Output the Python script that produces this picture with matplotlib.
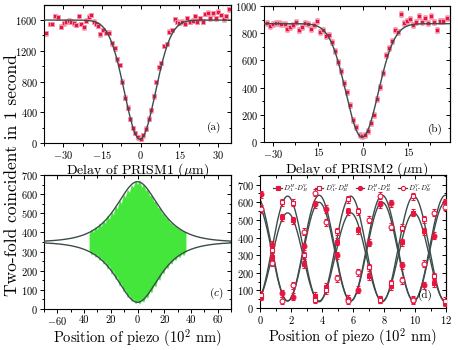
import numpy as np
import matplotlib
matplotlib.use('Agg')
import matplotlib.pyplot as plt
from matplotlib.lines import Line2D
from matplotlib.ticker import MultipleLocator, NullFormatter

plt.rcParams['font.family'] = 'serif'
plt.rcParams['font.serif'] = ['cmr10']
plt.rcParams['mathtext.fontset'] = 'cm'
plt.rcParams['axes.formatter.use_mathtext'] = True
plt.rcParams['axes.linewidth'] = 0.8

# ---- panel (a): HOM dip vs delay of PRISM1 ----
delay_a = [-36.6, -35.3, -34.3, -33.1, -32.1, -30.8, -29.9, -28.8, -27.9, -26.9,
           -26.0, -25.0, -24.1, -23.0, -22.1, -21.1, -20.1, -19.1, -18.2, -17.2,
           -16.4, -15.7, -14.6, -13.3, -12.3, -11.1, -10.1, -9.2, -8.2, -7.1,
           -6.1, -5.0, -4.1, -3.1, -2.1, -1.0, 0.0, 1.0, 2.1, 3.1,
           4.1, 5.0, 6.1, 7.0, 8.0, 9.1, 10.1, 11.1, 12.0, 13.1,
           14.1, 15.0, 16.0, 17.1, 18.0, 19.0, 20.1, 21.0, 22.0, 23.0,
           24.1, 25.1, 26.1, 27.0, 28.1, 29.1, 30.1, 31.0, 32.1, 33.1, 34.2]
counts_a = [1426, 1548, 1548, 1652, 1635, 1513, 1557, 1578, 1591, 1578,
            1557, 1535, 1652, 1548, 1504, 1591, 1643, 1665, 1578, 1548,
            1526, 1413, 1470, 1435, 1435, 1296, 1230, 1087, 1013, 800,
            591, 461, 313, 196, 130, 74, 57, 100, 187, 317,
            426, 609, 796, 983, 1043, 1261, 1287, 1448, 1470, 1609,
            1578, 1565, 1578, 1548, 1622, 1578, 1591, 1652, 1578, 1622,
            1578, 1678, 1696, 1622, 1687, 1622, 1709, 1665, 1609, 1652, 1739]
err_a = 30
# gaussian fit: baseline, depth, centre, width
fit_a = (1600, 1550, -0.3, 6.0)

# ---- panel (b): HOM dip vs delay of PRISM2 ----
delay_b = [-32.0, -31.1, -30.0, -29.1, -28.1, -27.2, -26.1, -25.2, -24.3, -23.2,
           -22.2, -21.3, -20.3, -19.3, -18.3, -17.3, -16.3, -15.2, -14.2, -13.2,
           -12.2, -11.2, -10.2, -9.2, -8.2, -7.2, -6.2, -5.2, -4.2, -3.2,
           -2.2, -1.1, -0.2, 0.8, 1.8, 2.8, 3.8, 4.8, 5.8, 6.8,
           7.8, 8.8, 9.8, 10.8, 11.8, 12.8, 13.8, 14.8, 15.8, 16.8,
           17.8, 18.8, 19.8, 20.8, 21.8, 22.8, 23.8, 24.8, 25.8, 26.8, 27.9]
counts_b = [876, 851, 866, 876, 878, 871, 866, 834, 846, 859,
            883, 827, 846, 876, 866, 834, 859, 890, 810, 827,
            780, 790, 737, 668, 590, 524, 437, 371, 273, 159,
            110, 49, 41, 49, 83, 139, 200, 315, 407, 510,
            639, 693, 741, 822, 810, 939, 876, 890, 907, 859,
            883, 927, 883, 915, 876, 924, 883, 827, 890, 890, 915]
err_b = 22
fit_b = (870, 835, -0.3, 5.4)

# ---- panel (c): fringes vs piezo position ----
piezo_c_range = (-36, 36)
fringe_upper = [392, 418, 398, 430, 412, 448, 428, 462, 444, 488, 466, 506, 490,
                538, 518, 566, 548, 596, 582, 622, 606, 646, 634, 670, 648,
                672, 632, 650, 618, 622, 590, 592, 562, 560, 530, 525, 500,
                494, 476, 470, 452, 446, 434, 430, 420, 416, 408, 406, 400]
fringe_lower = [308, 284, 300, 272, 288, 255, 272, 236, 252, 212, 232, 184, 206,
                156, 174, 122, 140, 92, 106, 62, 78, 42, 56, 30, 44,
                28, 52, 38, 70, 60, 98, 88, 130, 118, 166, 152, 198,
                186, 226, 212, 250, 236, 268, 256, 284, 270, 296, 282, 304]
# envelope fit: baseline, amplitude, sech width
env_c = (350, 315, 14.3)

# ---- panel (d): four coincidence channels vs piezo ----
piezo_d = [0.05, 0.75, 1.45, 2.15, 2.85, 3.55, 4.25, 4.95, 5.65,
           6.35, 7.05, 7.75, 8.45, 9.15, 9.85, 10.55, 11.25, 11.95]
hv = [64, 290, 515, 497, 249, 70, 120, 375, 550, 440, 180, 50, 125, 374, 540, 435, 142, 30]
vh = [74, 330, 600, 598, 300, 46, 100, 435, 617, 550, 230, 46, 140, 455, 633, 505, 180, 40]
hh = [645, 360, 83, 64, 350, 589, 562, 300, 52, 105, 370, 589, 595, 243, 47, 130, 410, 600]
vv = [562, 258, 42, 129, 433, 654, 488, 170, 40, 203, 500, 637, 460, 157, 45, 250, 540, 575]
err_d = 20
# sinusoid fits: offset, amplitude (sign gives phase)
fits_d = [(290, 250), (335, 300), (320, -280), (340, -300)]
period_d = 4.07
peak_d = 1.78
labels_d = [r'$D_A^H$-$D_B^V$', r'$D_A^V$-$D_B^H$', r'$D_A^H$-$D_B^H$', r'$D_A^V$-$D_B^V$']

red = '#e8163f'
pink = '#f49ab0'
fitcol = '#3c4c4c'
green = '#44e63c'

fig = plt.figure(figsize=(4.58, 3.5), dpi=100)
ax_a = fig.add_axes([0.0961, 0.5914, 0.4083, 0.3943])
ax_b = fig.add_axes([0.5764, 0.5943, 0.4061, 0.3886])
ax_c = fig.add_axes([0.0961, 0.1171, 0.4083, 0.3829])
ax_d = fig.add_axes([0.5677, 0.1200, 0.4061, 0.3800])


def style(ax, xmaj, xmin, ymaj, ymin):
    ax.xaxis.set_major_locator(MultipleLocator(xmaj))
    ax.xaxis.set_minor_locator(MultipleLocator(xmin))
    ax.yaxis.set_major_locator(MultipleLocator(ymaj))
    ax.yaxis.set_minor_locator(MultipleLocator(ymin))
    ax.tick_params(which='both', direction='out', labelsize=7.5, pad=1.5, width=0.7)
    ax.tick_params(which='major', length=3)
    ax.tick_params(which='minor', length=1.8)
    # mirrored ticks on top and right, pointing inwards
    top = ax.secondary_xaxis('top')
    top.xaxis.set_major_locator(MultipleLocator(xmaj))
    top.xaxis.set_minor_locator(MultipleLocator(xmin))
    top.xaxis.set_major_formatter(NullFormatter())
    top.tick_params(which='both', direction='in', width=0.7)
    top.tick_params(which='major', length=3)
    top.tick_params(which='minor', length=1.8)
    right = ax.secondary_yaxis('right')
    right.yaxis.set_major_locator(MultipleLocator(ymaj))
    right.yaxis.set_minor_locator(MultipleLocator(ymin))
    right.yaxis.set_major_formatter(NullFormatter())
    right.tick_params(which='both', direction='in', width=0.7)
    right.tick_params(which='major', length=3)
    right.tick_params(which='minor', length=1.8)


def dip(x, base, depth, x0, sig):
    return base - depth * np.exp(-(x - x0) ** 2 / (2 * sig ** 2))


# (a)
xs = np.linspace(-37.5, 35, 400)
ax_a.plot(xs, dip(xs, *fit_a), color=fitcol, lw=1.0, zorder=3)
ax_a.errorbar(delay_a, counts_a, yerr=err_a, fmt='s', ms=3.5, mfc=red, mec=pink,
              mew=0.6, ecolor=pink, elinewidth=0.6, capsize=1.2, zorder=2)
ax_a.set_xlim(-37.5, 35)
ax_a.set_ylim(0, 1796)
style(ax_a, 15, 7.5, 400, 200)
ax_a.set_xlabel(r'Delay of PRISM1 ($\mu$m)', fontsize=10, labelpad=0)
ax_a.text(0.95, 0.07, '(a)', transform=ax_a.transAxes, fontsize=8, ha='right', va='bottom')

# (b)
xs = np.linspace(-33, 29, 400)
ax_b.plot(xs, dip(xs, *fit_b), color=fitcol, lw=1.0, zorder=3)
ax_b.errorbar(delay_b, counts_b, yerr=err_b, fmt='s', ms=3.5, mfc=red, mec=pink,
              mew=0.6, ecolor=pink, elinewidth=0.6, capsize=1.2, zorder=2)
ax_b.set_xlim(-33, 29)
ax_b.set_ylim(0, 1000)
style(ax_b, 15, 7.5, 200, 100)
ax_b.set_xticks([-30, -15, 0, 15])
ax_b.set_xticklabels([r'$-30$', '15', '0', '15'])
ax_b.set_xlabel(r'Delay of PRISM2 ($\mu$m)', fontsize=10, labelpad=0)
ax_b.text(0.96, 0.05, '(b)', transform=ax_b.transAxes, fontsize=8, ha='right', va='bottom')

# (c)
xg = np.linspace(piezo_c_range[0], piezo_c_range[1], len(fringe_upper))
ax_c.fill_between(xg, fringe_lower, fringe_upper, color=green, lw=0.4, edgecolor=green, zorder=2)
xs = np.linspace(-70, 70, 500)
base_c, amp_c, w_c = env_c
env = amp_c / np.cosh(xs / w_c)
ax_c.plot(xs, base_c + env, color=fitcol, lw=1.0, zorder=3)
ax_c.plot(xs, base_c - env, color=fitcol, lw=1.0, zorder=3)
ax_c.set_xlim(-70, 70)
ax_c.set_ylim(0, 700)
style(ax_c, 20, 10, 100, 50)
ax_c.set_xticks([-60, -40, -20, 0, 20, 40, 60])
ax_c.set_xticklabels([r'$-60$', '40', '20', '0', '20', '40', '60'])
ax_c.set_xlabel(r'Position of piezo (10$^2$ nm)', fontsize=10.5, labelpad=0)
ax_c.text(0.96, 0.06, r'$(c)$', transform=ax_c.transAxes, fontsize=8, ha='right', va='bottom')

# (d)
xs = np.linspace(0, 12, 500)
series_d = [hv, vh, hh, vv]
markers_d = [('s', red), ('s', 'white'), ('o', red), ('o', 'white')]
handles = []
for vals, (off, amp), (mk, fc), lab in zip(series_d, fits_d, markers_d, labels_d):
    ax_d.plot(xs, off + amp * np.cos(2 * np.pi * (xs - peak_d) / period_d),
              color=fitcol, lw=1.0, zorder=2)
    ax_d.errorbar(piezo_d, vals, yerr=err_d, fmt=mk, ms=3.5, mfc=fc, mec=red,
                  mew=0.8, ecolor=red, elinewidth=0.7, capsize=1.3, zorder=3)
    handles.append(Line2D([], [], color=fitcol, lw=0.9, marker=mk, ms=3.0,
                          mfc=fc, mec=red, mew=0.8, label=lab))
ax_d.set_xlim(0, 12)
ax_d.set_ylim(0, 755)
style(ax_d, 2, 1, 100, 50)
ax_d.set_xlabel(r'Position of piezo (10$^2$ nm)', fontsize=10.5, labelpad=0)
ax_d.text(0.93, 0.05, '(d)', transform=ax_d.transAxes, fontsize=8, ha='right', va='bottom')
ax_d.legend(handles=handles, loc='upper center', ncol=4, fontsize=5.0, frameon=False,
            handlelength=1.2, handletextpad=0.2, columnspacing=0.9,
            borderaxespad=0.1, bbox_to_anchor=(0.5, 0.975))

fig.text(0.026, 0.5, 'Two-fold coincident in 1 second', rotation=90,
         fontsize=12.5, ha='center', va='center')

fig.savefig('out.png', dpi=100)
